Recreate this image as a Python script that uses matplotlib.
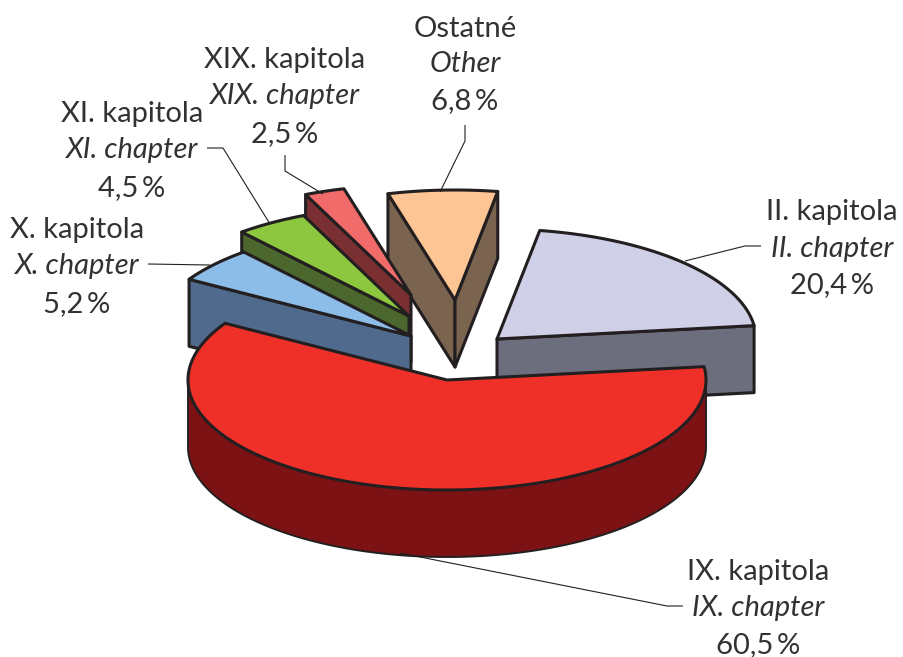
import numpy as np
import matplotlib
matplotlib.use('Agg')
import matplotlib.pyplot as plt
from matplotlib.patches import Polygon

# Data
labels_sk = ['II. kapitola', 'IX. kapitola', 'X. kapitola', 'XI. kapitola', 'XIX. kapitola', 'Ostatné']
labels_en = ['II. chapter', 'IX. chapter', 'X. chapter', 'XI. chapter', 'XIX. chapter', 'Other']
values = [20.4, 60.5, 5.2, 4.5, 2.5, 6.8]
value_labels = ['20,4\u2009%', '60,5\u2009%', '5,2\u2009%', '4,5\u2009%', '2,5\u2009%', '6,8\u2009%']

# Colours
top_colors = ['#CFCFE8', '#EF3029', '#8CBDE8', '#8DC63F', '#F26B6B', '#FDC593']
side_colors = ['#6C6D7D', '#7C1213', '#4F6A8C', '#4C672E', '#7A3033', '#7A6450']
EDGE = '#231F20'
TEXT = '#333132'

# Layout, in pixels of the 904x657 picture
RX, RY, DEPTH = 259, 110, 67
START_ANGLE = 80.5
apexes = [(497, 339), (447, 380), (411, 336), (409, 316), (411, 295), (455, 300)]
draw_order = [5, 4, 3, 2, 0, 1]
label_x = [832, 758, 77, 132, 285, 465]
label_y = [(212, 249, 285), (572, 608, 645), (230, 266, 304),
           (114, 150, 188), (60, 96, 134), (29, 64, 101)]
leaders = [
    [(761, 246), (745, 246), (685, 261)],
    [(683, 606), (667, 606), (400, 553)],
    [(148, 264), (210, 265)],
    [(207, 148), (223, 148), (270, 224)],
    [(285, 155), (285, 171), (323, 194)],
    [(465, 125), (465, 141), (440, 192)],
]


def rim(apex, angles):
    rad = np.radians(angles)
    return np.column_stack([apex[0] + RX * np.cos(rad), apex[1] - RY * np.sin(rad)])


def draw_slice(ax, apex, a_from, a_to, top, side):
    ax_pt = np.array(apex, dtype=float)
    down = np.array([0, DEPTH])

    # cut faces, only those turned to the viewer
    faces = []
    if np.cos(np.radians(a_to)) < 0:
        faces.append(a_to)
    if np.cos(np.radians(a_from)) > 0:
        faces.append(a_from)
    for a in faces:
        p = rim(apex, np.array([a]))[0]
        ax.add_patch(Polygon([ax_pt, p, p + down, ax_pt + down], closed=True, fc=side,
                             ec=EDGE, lw=2.2, joinstyle='round'))

    # outer wall, only the part that faces the viewer
    angles = np.linspace(a_from, a_to, 200)
    front = angles[np.sin(np.radians(angles)) < 0]
    if len(front) > 1:
        arc = rim(apex, front)
        ax.add_patch(Polygon(np.vstack([arc, arc[::-1] + down]), closed=True, fc=side,
                             ec=EDGE, lw=1.4, joinstyle='round'))

    # top
    ax.add_patch(Polygon(np.vstack([ax_pt, rim(apex, angles)]), closed=True, fc=top,
                         ec=EDGE, lw=2.2, joinstyle='round'))


fig = plt.figure(figsize=(9.04, 6.57), dpi=100)
ax = fig.add_axes([0, 0, 1, 1])
ax.set_xlim(0, 904)
ax.set_ylim(657, 0)
ax.axis('off')

sweep = np.array(values) / sum(values) * 360
ends = START_ANGLE - np.cumsum(sweep)
starts = ends + sweep

for i in draw_order:
    draw_slice(ax, apexes[i], ends[i], starts[i], top_colors[i], side_colors[i])

for pts in leaders:
    xs, ys = zip(*pts)
    ax.plot(xs, ys, color=EDGE, lw=0.8, solid_capstyle='butt')

font = dict(family='Lato', size=21, color=TEXT, ha='center', va='center')
for i in range(len(values)):
    ax.text(label_x[i], label_y[i][0], labels_sk[i], **font)
    ax.text(label_x[i], label_y[i][1], labels_en[i], style='italic', **font)
    ax.text(label_x[i], label_y[i][2], value_labels[i], **font)

fig.savefig('out.png', dpi=100)
